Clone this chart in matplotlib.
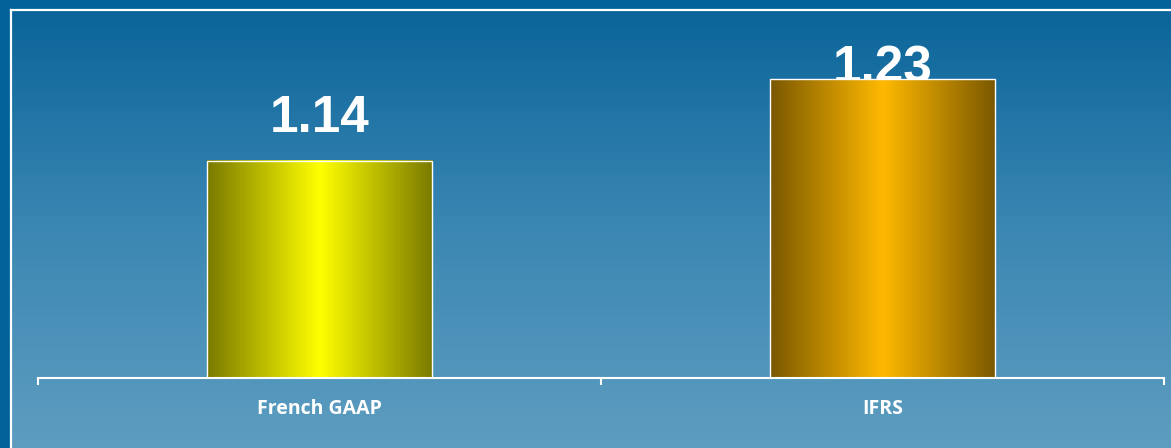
import numpy as np
import matplotlib
matplotlib.use("Agg")
import matplotlib.pyplot as plt
from matplotlib.colors import LinearSegmentedColormap

# =============================================
# DATA
# =============================================
categories = ["French GAAP", "IFRS"]
values = [1.14, 1.23]
value_labels = ["1.14", "1.23"]
label_offsets = [0.032, -0.003]   # where the value text sits relative to bar top

# bar colours: edge shade, centre shade
bar_dark = ["#7a7a00", "#7a5800"]
bar_light = ["#ffff00", "#ffb900"]

W, H = 1171, 448
fig = plt.figure(figsize=(W / 100, H / 100), dpi=100)
fig.patch.set_facecolor("#02639b")

# =============================================
# BACKGROUND (gradient panel with white frame)
# =============================================
bg = fig.add_axes([11 / W, 0, 1 - 11 / W, 1 - 10 / H])
grad = np.linspace(0, 1, 256).reshape(-1, 1)
bg_cmap = LinearSegmentedColormap.from_list("bg", ["#0a6499", "#3b87b3", "#5e9dc0"])
bg.imshow(grad, aspect="auto", cmap=bg_cmap, extent=[0, 1, 0, 1], origin="upper")
bg.set_xlim(0, 1)
bg.set_ylim(0, 1)
bg.set_xticks([])
bg.set_yticks([])
for s in ["right", "bottom"]:
    bg.spines[s].set_visible(False)
for s in ["left", "top"]:
    bg.spines[s].set_color("white")
    bg.spines[s].set_linewidth(1.6)

# =============================================
# MAIN CHART
# =============================================
ax = fig.add_axes([38 / W, 70 / H, (1164 - 38) / W, (378 - 16) / H])
ax.patch.set_alpha(0)
x = np.arange(len(categories))
bars = ax.bar(x, values, width=0.4, bottom=0, color="none",
              edgecolor="white", linewidth=1.0, zorder=3)

ax.set_xlim(-0.5, 1.5)
ax.set_ylim(0.9, 1.3)

# horizontal gradient inside each bar
ramp = np.linspace(0, 1, 256).reshape(1, -1)
for i, b in enumerate(bars):
    cm = LinearSegmentedColormap.from_list(
        f"b{i}", [bar_dark[i], bar_light[i], bar_dark[i]])
    ax.imshow(ramp, aspect="auto", cmap=cm, zorder=2,
              extent=[b.get_x(), b.get_x() + b.get_width(), ax.get_ylim()[0], b.get_height()])

ax.set_xlim(-0.5, 1.5)
ax.set_ylim(0.9, 1.3)

for i, v in enumerate(values):
    ax.text(x[i], v + label_offsets[i], value_labels[i], ha="center", va="baseline",
            fontsize=37, fontweight="bold", color="white",
            family="Liberation Sans", zorder=1)

for s in ["left", "right", "top"]:
    ax.spines[s].set_visible(False)
ax.spines["bottom"].set_color("white")
ax.spines["bottom"].set_linewidth(1.5)
ax.set_yticks([])

ax.set_xticks(x)
ax.set_xticklabels(categories, fontsize=14, fontweight="bold", color="white",
                   family="Open Sans")
ax.tick_params(axis="x", which="major", length=0, pad=15)
ax.set_xticks([-0.5, 0.5, 1.5], minor=True)
ax.tick_params(axis="x", which="minor", length=5, width=1.5, color="white",
               direction="out")

fig.savefig("out.png", dpi=100, facecolor=fig.get_facecolor())
